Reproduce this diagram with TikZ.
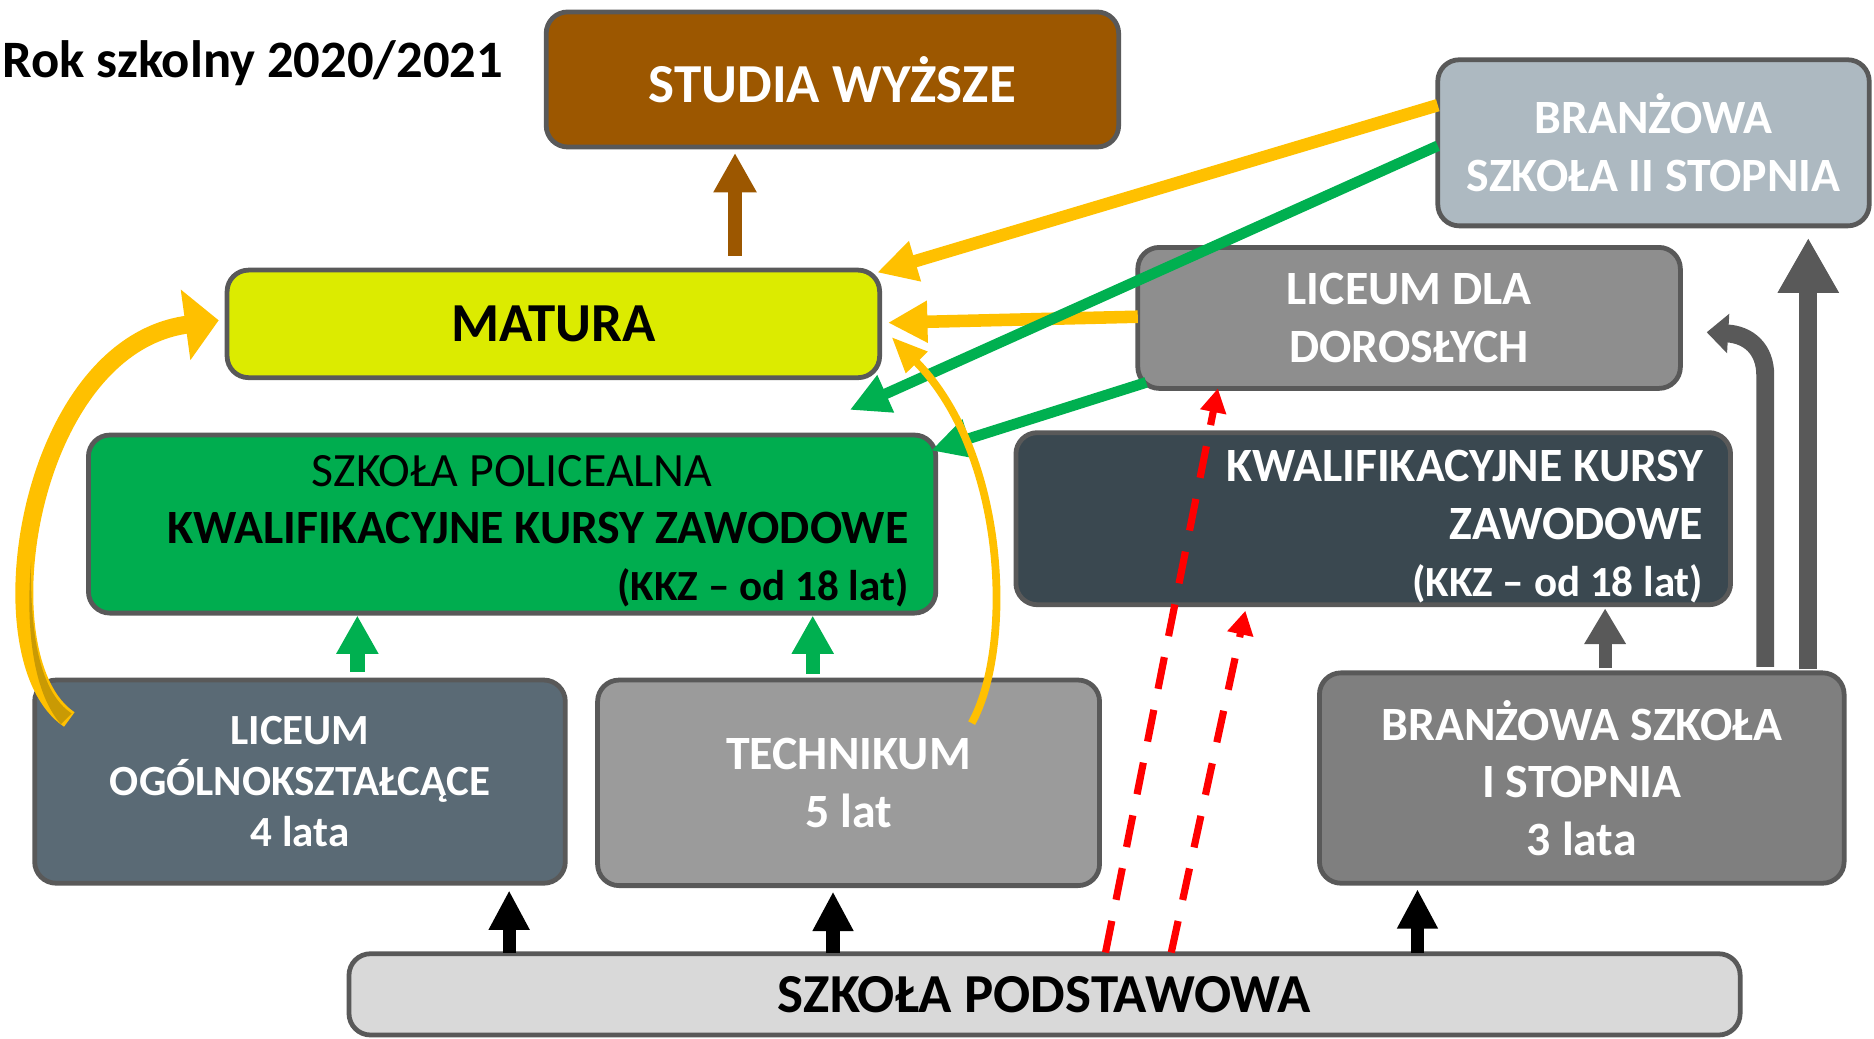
\documentclass[tikz,border=0pt]{standalone}
\usepackage{fontspec}
\setmainfont{Carlito}
\usetikzlibrary{arrows.meta,calc}
\definecolor{bordc}{HTML}{595959}
\definecolor{cStudia}{HTML}{9C5700}
\definecolor{cMatura}{HTML}{DCEB00}
\definecolor{cBII}{HTML}{ADB9C1}
\definecolor{cLDD}{HTML}{8E8E8E}
\definecolor{cPoli}{HTML}{00AD4F}
\definecolor{cKKZ}{HTML}{3A4850}
\definecolor{cLO}{HTML}{5A6A75}
\definecolor{cTech}{HTML}{9B9B9B}
\definecolor{cBI}{HTML}{7F7F7F}
\definecolor{cSP}{HTML}{D9D9D9}
\definecolor{yel}{HTML}{FFC000}
\definecolor{dgold}{HTML}{C99A04}
\definecolor{grn}{HTML}{00B050}
\definecolor{redd}{HTML}{FF0000}
\begin{document}
\begin{tikzpicture}[x=1pt,y=-1pt,
  box/.style={draw=bordc,line width=4pt,rounded corners=18pt,outer sep=0pt,inner sep=0pt,align=center},
  fbig/.style={font=\fontsize{46}{54}\selectfont\bfseries},
  fmid/.style={font=\fontsize{40}{48}\selectfont\bfseries},
  fsmall/.style={font=\fontsize{36}{43}\selectfont\bfseries},
  yarr/.style={draw=yel,line width=10.5pt,-{Triangle[length=33pt,width=33pt]}},
  garr/.style={draw=grn,line width=9pt,-{Triangle[length=33pt,width=32pt]}},
  gshort/.style={draw=grn,line width=12pt,-{Triangle[length=32pt,width=33pt]}},
  karr/.style={draw=black,line width=11pt,-{Triangle[length=33pt,width=32pt]}},
  darr/.style={draw=bordc,line width=11pt,-{Triangle[length=30pt,width=33pt]}},
  barr/.style={draw=cStudia,line width=11pt,-{Triangle[length=33pt,width=34pt]}},
  rarr/.style={draw=redd,line width=6pt,dash pattern=on 27pt off 18pt,-{Triangle[length=20pt,width=21pt]}},
]
\useasboundingbox (0,0) rectangle (1568,869);

% boxes
\node[box,fill=cStudia,text=white,fbig,minimum width=479pt,minimum height=113pt] (studia) at (696.5,66.5) {STUDIA WYŻSZE};
\node[box,fill=cBII,text=white,fmid,minimum width=361pt,minimum height=139pt] (bII) at (1383.5,119.5) {BRANŻOWA\\SZKOŁA II STOPNIA};
\node[box,fill=cMatura,text=black,fbig,minimum width=546pt,minimum height=90pt] (matura) at (463,271) {MATURA};
\node[box,fill=cLDD,text=white,fmid,minimum width=454pt,minimum height=118pt] (ldd) at (1179,266) {LICEUM DLA\\DOROSŁYCH};
\node[box,fill=cPoli,text=black,fmid,align=right,minimum width=709pt,minimum height=149pt] (poli) at (428.5,438.5)
  {\makebox[663pt][c]{\rule{0pt}{38pt}\mdseries SZKOŁA POLICEALNA}\\KWALIFIKACYJNE KURSY ZAWODOWE\\{\fontsize{36}{43}\selectfont (KKZ – od 18 lat)}};
\node[box,fill=cKKZ,text=white,fmid,align=right,minimum width=598pt,minimum height=144pt] (kkz) at (1149,434)
  {\makebox[552pt][r]{\rule{0pt}{40pt}KWALIFIKACYJNE KURSY}\\ZAWODOWE\\{\fontsize{36}{43}\selectfont (KKZ – od 18 lat)}};
\node[box,fill=cLO,text=white,fsmall,minimum width=444pt,minimum height=170pt] (lo) at (251,654) {LICEUM\\OGÓLNOKSZTAŁCĄCE\\4 lata};
\node[box,fill=cTech,text=white,fmid,minimum width=420pt,minimum height=172pt] (tech) at (710,655) {TECHNIKUM\\5 lat};
\node[box,fill=cBI,text=white,fmid,minimum width=439pt,minimum height=176pt] (bI) at (1323.5,651) {BRANŻOWA SZKOŁA\\I STOPNIA\\3 lata};
\node[box,fill=cSP,text=black,fbig,minimum width=1164pt,minimum height=68pt] (sp) at (874,832) {SZKOŁA PODSTAWOWA};

\node[anchor=base west,inner sep=0pt,font=\fontsize{44}{52}\selectfont\bfseries] (title) at (2,65) {Rok szkolny 2020/2021};

% vertical arrows
\draw[barr] ($(matura.north)+(152,-12)$) -- ($(studia.south)+(-81.5,5)$);
\draw[gshort] ($(lo.north)+(48,-7)$) -- ($(poli.south)+(-129.5,2)$);
\draw[gshort] ($(tech.north)+(-30,-5)$) -- ($(poli.south)+(251.5,2)$);
\draw[karr] ($(sp.north)+(-448,-1)$) -- ($(lo.south)+(175,6)$);
\draw[karr] ($(sp.north)+(-177,-1)$) -- ($(tech.south)+(-13,5)$);
\draw[karr] ($(sp.north)+(312,-1)$) -- ($(bI.south)+(-137.5,5)$);
\draw[darr] ($(bI.north)+(19.5,-4)$) -- ($(kkz.south)+(194,3)$);
\draw[draw=bordc,line width=15pt,-{Triangle[length=46pt,width=48pt]}] ($(bI.north)+(189.5,-3)$) -- ($(bII.south)+(129.5,10)$);
\draw[draw=bordc,line width=15pt,-{Triangle[length=18pt,width=32pt]}] ($(bI.north)+(153.5,-5)$) -- ++(0,-244) .. controls +(0,-22) and +(35,2) .. ($(ldd.east)+(22,12)$);

% straight yellow and green arrows
\draw[yarr] ($(bII.west)+(0,-31.5)$) -- ($(matura.north east)+(-2,2)$);
\draw[yarr] ($(ldd.west)+(0,-1)$) -- ($(matura.east)+(7,-1)$);
\draw[garr] ($(bII.west)+(0,2.5)$) -- ($(matura.south east)+(-25,27)$);
\draw[garr] ($(ldd.south west)+(7,-5)$) -- ($(poli.north east)+(-4,13)$);

% curved yellow arrows
\draw[draw=yel,line width=15pt,-{Triangle[length=28pt,width=58pt]}] ($(lo.north west)+(29,33)$) .. controls +(-75,-50) and +(-161,22) .. ($(matura.west)+(-7,-3)$);
\fill[dgold] ($(lo.north west)+(31,28)$) .. controls +(-27,-18) and +(-1,60) .. ($(lo.north west)+(-3,-99)$) .. controls +(-5,60) and +(-22,-25) .. ($(lo.north west)+(22,37)$) -- cycle;
\draw[draw=yel,line width=6.5pt,-{Triangle[length=30pt,width=24pt]}] ($(tech.north east)+(-107,36)$) .. controls +(35,-63) and +(97,98) .. ($(matura.east)+(10,11)$);

% red dashed arrows
\draw[rarr] ($(sp.north)+(51,-1)$) -- ($(ldd.south)+(-160,0)$);
\draw[rarr] ($(sp.north)+(106,-1)$) -- ($(kkz.south)+(-107,5)$);
\end{tikzpicture}
\end{document}
